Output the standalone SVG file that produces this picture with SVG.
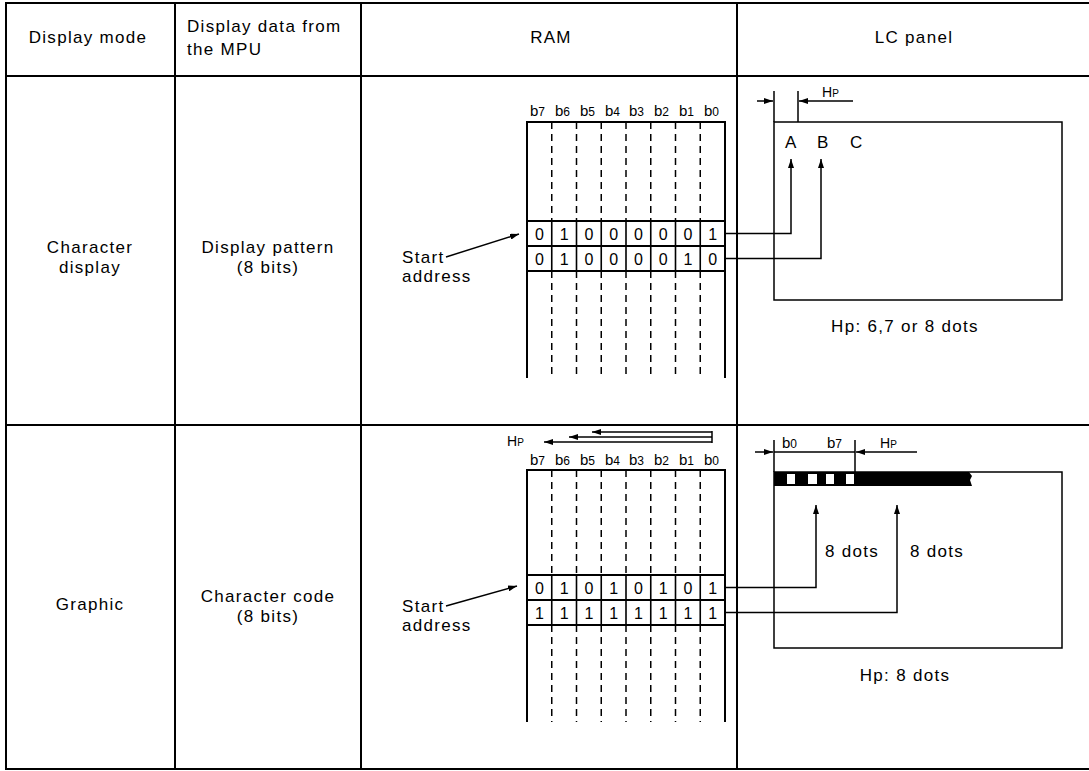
<svg xmlns="http://www.w3.org/2000/svg" width="1089" height="771" viewBox="0 0 1089 771">
<style>
text{font-family:"Liberation Sans",Arial,sans-serif;fill:#000}
.t{font-size:17px;letter-spacing:1.3px}
.m{text-anchor:middle}
.bl{font-size:15px}
.bs{font-size:12px}
.d{font-size:16px;text-anchor:middle}
.hp{font-size:14px}
.frame{stroke:#000;stroke-width:2;fill:none}
.box{stroke:#000;stroke-width:2;fill:none}
.dash{stroke:#000;stroke-width:1.5;stroke-dasharray:7 5;fill:none}
.cell{stroke:#000;stroke-width:1.6;fill:none}
.c{stroke:#000;stroke-width:1.5;fill:none}
</style>
<defs>
<marker id="ah" markerUnits="userSpaceOnUse" markerWidth="9" markerHeight="6" refX="9" refY="3" orient="auto">
<path d="M0,0 L9,3 L0,6 z" fill="#000"/>
</marker>
</defs>
<rect width="1089" height="771" fill="#fff"/>

<g id="table">
<path class="frame" d="M1089,3 H6 V769 H1089 M6,76 H1089 M6,425 H1089 M175,3 V769 M361,3 V769 M737,3 V769"/>
</g>

<g id="headers">
<text class="t m" x="88" y="43">Display mode</text>
<text class="t" x="187" y="32">Display data from</text>
<text class="t" x="187" y="55">the MPU</text>
<text class="t m" x="551" y="43">RAM</text>
<text class="t m" x="914" y="43">LC panel</text>
</g>

<g id="row1-mode">
<text class="t m" x="90" y="253">Character</text>
<text class="t m" x="90" y="273">display</text>
</g>
<g id="row1-data">
<text class="t m" x="268" y="253">Display pattern</text>
<text class="t m" x="268" y="273">(8 bits)</text>
</g>
<g id="row1-start">
<text class="t" x="402" y="263">Start</text>
<text class="t" x="402" y="282">address</text>
</g>

<g id="ram1">
<g class="bl">
<text x="530" y="116">b<tspan class="bs">7</tspan></text>
<text x="555" y="116">b<tspan class="bs">6</tspan></text>
<text x="580" y="116">b<tspan class="bs">5</tspan></text>
<text x="605" y="116">b<tspan class="bs">4</tspan></text>
<text x="629" y="116">b<tspan class="bs">3</tspan></text>
<text x="654" y="116">b<tspan class="bs">2</tspan></text>
<text x="679" y="116">b<tspan class="bs">1</tspan></text>
<text x="704" y="116">b<tspan class="bs">0</tspan></text>
</g>
<path class="box" d="M527,378 V122 H725 V378"/>
<path class="dash" d="M551.75,122V221 M576.5,122V221 M601.25,122V221 M626,122V221 M650.75,122V221 M675.5,122V221 M700.25,122V221 M551.75,271V378 M576.5,271V378 M601.25,271V378 M626,271V378 M650.75,271V378 M675.5,271V378 M700.25,271V378"/>
<path class="box" d="M527,221 H725 M527,246 H725 M527,271 H725"/>
<path class="cell" d="M551.75,221V271 M576.5,221V271 M601.25,221V271 M626,221V271 M650.75,221V271 M675.5,221V271 M700.25,221V271"/>
<g class="d">
<text x="539.4" y="239.5">0</text><text x="564.1" y="239.5">1</text><text x="588.9" y="239.5">0</text><text x="613.6" y="239.5">0</text><text x="638.4" y="239.5">0</text><text x="663.1" y="239.5">0</text><text x="687.9" y="239.5">0</text><text x="712.6" y="239.5">1</text>
<text x="539.4" y="264.5">0</text><text x="564.1" y="264.5">1</text><text x="588.9" y="264.5">0</text><text x="613.6" y="264.5">0</text><text x="638.4" y="264.5">0</text><text x="663.1" y="264.5">0</text><text x="687.9" y="264.5">1</text><text x="712.6" y="264.5">0</text>
</g>
</g>

<g id="lc1">
<rect class="c" x="774" y="122" width="288" height="178"/>
<path class="c" d="M774,91 V122 M798,91 V122"/>
<text class="hp" x="822" y="97">H<tspan font-size="10">P</tspan></text>
<text class="t" x="785" y="148">A</text>
<text class="t" x="817" y="148">B</text>
<text class="t" x="850" y="148">C</text>
<text class="t m" x="905" y="332">Hp: 6,7 or 8 dots</text>
</g>

<g id="row2-mode">
<text class="t m" x="90" y="610">Graphic</text>
</g>
<g id="row2-data">
<text class="t m" x="268" y="602">Character code</text>
<text class="t m" x="268" y="622">(8 bits)</text>
</g>
<g id="row2-start">
<text class="t" x="402" y="612">Start</text>
<text class="t" x="402" y="631">address</text>
</g>

<g id="ram2">
<text class="hp" x="507" y="446">H<tspan font-size="10">P</tspan></text>
<g class="bl">
<text x="530" y="465">b<tspan class="bs">7</tspan></text>
<text x="555" y="465">b<tspan class="bs">6</tspan></text>
<text x="580" y="465">b<tspan class="bs">5</tspan></text>
<text x="605" y="465">b<tspan class="bs">4</tspan></text>
<text x="629" y="465">b<tspan class="bs">3</tspan></text>
<text x="654" y="465">b<tspan class="bs">2</tspan></text>
<text x="679" y="465">b<tspan class="bs">1</tspan></text>
<text x="704" y="465">b<tspan class="bs">0</tspan></text>
</g>
<path class="box" d="M527,722 V470 H725 V722"/>
<path class="dash" d="M551.75,470V575 M576.5,470V575 M601.25,470V575 M626,470V575 M650.75,470V575 M675.5,470V575 M700.25,470V575 M551.75,625V722 M576.5,625V722 M601.25,625V722 M626,625V722 M650.75,625V722 M675.5,625V722 M700.25,625V722"/>
<path class="box" d="M527,575 H725 M527,600 H725 M527,625 H725"/>
<path class="cell" d="M551.75,575V625 M576.5,575V625 M601.25,575V625 M626,575V625 M650.75,575V625 M675.5,575V625 M700.25,575V625"/>
<g class="d">
<text x="539.4" y="593.5">0</text><text x="564.1" y="593.5">1</text><text x="588.9" y="593.5">0</text><text x="613.6" y="593.5">1</text><text x="638.4" y="593.5">0</text><text x="663.1" y="593.5">1</text><text x="687.9" y="593.5">0</text><text x="712.6" y="593.5">1</text>
<text x="539.4" y="618.5">1</text><text x="564.1" y="618.5">1</text><text x="588.9" y="618.5">1</text><text x="613.6" y="618.5">1</text><text x="638.4" y="618.5">1</text><text x="663.1" y="618.5">1</text><text x="687.9" y="618.5">1</text><text x="712.6" y="618.5">1</text>
</g>
</g>

<g id="lc2">
<rect class="c" x="774" y="472" width="288" height="176"/>
<path d="M774,472 H969 L972,476 L970,480 L972,486 H774 z" fill="#000"/>
<g fill="#fff">
<rect x="787" y="474" width="8" height="10"/>
<rect x="808" y="474" width="9" height="10"/>
<rect x="826" y="474" width="8" height="10"/>
<rect x="846" y="474" width="8" height="10"/>
</g>
<path class="c" d="M774,440 V472 M855,440 V472 M774,452 H855"/>
<text class="bl" x="782" y="448">b<tspan class="bs">0</tspan></text>
<text class="bl" x="827" y="448">b<tspan class="bs">7</tspan></text>
<text class="hp" x="880" y="448">H<tspan font-size="10">P</tspan></text>
<text class="t" x="825" y="557">8 dots</text>
<text class="t" x="910" y="557">8 dots</text>
<text class="t m" x="905" y="681">Hp: 8 dots</text>
</g>

<g id="connectors">
<path class="c" d="M446,257 L519,234" marker-end="url(#ah)"/>
<path class="c" d="M446,606 L517,586" marker-end="url(#ah)"/>
<path class="c" d="M725,233.5 H791 V159" marker-end="url(#ah)"/>
<path class="c" d="M725,258.5 H821 V159" marker-end="url(#ah)"/>
<path class="c" d="M726,587.5 H816 V505" marker-end="url(#ah)"/>
<path class="c" d="M726,612.5 H897 V505" marker-end="url(#ah)"/>
<path class="c" d="M757,101 H773" marker-end="url(#ah)"/>
<path class="c" d="M853,101 H799" marker-end="url(#ah)"/>
<path class="c" d="M755,452 H773" marker-end="url(#ah)"/>
<path class="c" d="M917,452 H856" marker-end="url(#ah)"/>
<path class="c" d="M712,432 H592" marker-end="url(#ah)"/>
<path class="c" d="M712,437 H569" marker-end="url(#ah)"/>
<path class="c" d="M712,442 H544" marker-end="url(#ah)"/>
<path class="c" d="M712,431 V443"/>
</g>
</svg>
